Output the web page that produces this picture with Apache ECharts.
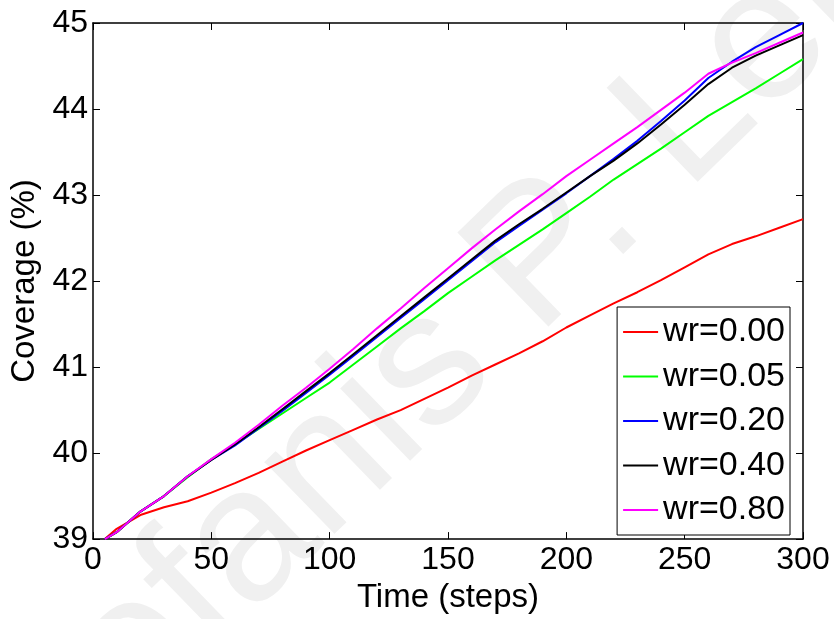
<!DOCTYPE html>
<html>
<head>
<meta charset="utf-8">
<script src="https://cdn.jsdelivr.net/npm/echarts@6/dist/echarts.min.js"></script>
<style>
  html, body { margin: 0; padding: 0; background: #fff; }
  #main { width: 834px; height: 619px; }
</style>
</head>
<body>
<div id="main"></div>
<script>
// time steps
var steps = [5, 10, 20, 30, 40, 50, 60, 70, 80, 90, 100, 110, 120, 130, 140, 150,
  160, 170, 180, 190, 200, 210, 220, 230, 240, 250, 260, 270, 280, 290, 300];

var wr000 = [39.00, 39.12, 39.28, 39.37, 39.44, 39.54, 39.65, 39.77, 39.90, 40.03, 40.15,
  40.27, 40.39, 40.50, 40.63, 40.76, 40.90, 41.03, 41.16, 41.30, 41.46,
  41.60, 41.74, 41.87, 42.01, 42.16, 42.31, 42.43, 42.52, 42.62, 42.72];
var wr005 = [39.00, 39.08, 39.32, 39.50, 39.72, 39.93, 40.10, 40.28, 40.46, 40.64, 40.82,
  41.03, 41.24, 41.45, 41.65, 41.86, 42.05, 42.24, 42.42, 42.60, 42.79,
  42.98, 43.18, 43.36, 43.54, 43.73, 43.92, 44.08, 44.24, 44.41, 44.58];
var wr020 = [39.00, 39.08, 39.32, 39.50, 39.73, 39.92, 40.09, 40.29, 40.49, 40.70, 40.91,
  41.13, 41.35, 41.57, 41.79, 42.01, 42.23, 42.45, 42.64, 42.83, 43.02,
  43.22, 43.42, 43.63, 43.86, 44.10, 44.36, 44.55, 44.72, 44.86, 45.00];
var wr040 = [39.00, 39.08, 39.32, 39.50, 39.73, 39.92, 40.10, 40.30, 40.51, 40.72, 40.93,
  41.15, 41.37, 41.59, 41.81, 42.03, 42.25, 42.47, 42.66, 42.84, 43.03,
  43.22, 43.40, 43.60, 43.82, 44.05, 44.29, 44.48, 44.62, 44.74, 44.86];
var wr080 = [39.00, 39.08, 39.32, 39.50, 39.73, 39.93, 40.12, 40.33, 40.55, 40.76, 40.98,
  41.21, 41.45, 41.68, 41.92, 42.15, 42.38, 42.60, 42.81, 43.01, 43.22,
  43.41, 43.60, 43.79, 43.99, 44.19, 44.41, 44.54, 44.65, 44.77, 44.89];

var seriesNames = ["wr=0.00", "wr=0.05", "wr=0.20", "wr=0.40", "wr=0.80"];
var seriesColors = ["#ff0000", "#00ff00", "#0000ff", "#000000", "#ff00ff"];
var seriesValues = [wr000, wr005, wr020, wr040, wr080];

var font = "Liberation Sans, Arial, Helvetica, sans-serif";

function pairs(vals) {
  return steps.map(function (t, i) { return [t, vals[i]]; });
}

var myChart = echarts.init(document.getElementById("main"));

var boxAxis = {
  axisLine: { show: true, onZero: false, lineStyle: { color: "#000", width: 1.5 } },
  axisTick: { show: true, inside: true, length: 7, lineStyle: { color: "#000", width: 1 } },
  splitLine: { show: false }
};

var option = {
  backgroundColor: "#fff",
  animation: false,
  textStyle: { fontFamily: font },
  grid: { left: 93, right: 31, top: 23, bottom: 73, containLabel: false },
  graphic: [
    {
      // faint watermark across the picture
      type: "text",
      x: -96, y: 746,
      rotation: 0.77,
      z: -10,
      silent: true,
      style: {
        text: "Stefanis P. Lekkas",
        fill: "#f0f0f0",
        font: "190px " + font,
        textBaseline: "middle"
      }
    }
  ],
  legend: {
    orient: "vertical",
    right: 44,
    top: 307,
    padding: [8, 5, 8, 6],
    itemGap: 10.5,
    itemWidth: 35,
    itemHeight: 2,
    icon: "rect",
    borderColor: "#000",
    borderWidth: 1,
    backgroundColor: "#fff",
    textStyle: { fontSize: 34, color: "#000", fontFamily: font },
    data: seriesNames
  },
  xAxis: [
    Object.assign({}, boxAxis, {
      type: "value", min: 0, max: 300, interval: 50, position: "bottom",
      name: "Time (steps)", nameLocation: "middle", nameGap: 38,
      nameTextStyle: { fontSize: 33, color: "#000", fontFamily: font },
      axisLabel: { fontSize: 32, color: "#000", margin: 5, fontFamily: font }
    }),
    Object.assign({}, boxAxis, {
      type: "value", min: 0, max: 300, interval: 50, position: "top",
      axisLabel: { show: false }
    })
  ],
  yAxis: [
    Object.assign({}, boxAxis, {
      type: "value", min: 39, max: 45, interval: 1, position: "left",
      name: "Coverage (%)", nameLocation: "middle", nameGap: 50,
      nameTextStyle: { fontSize: 33, color: "#000", fontFamily: font },
      axisLabel: { fontSize: 32, color: "#000", margin: 5, fontFamily: font }
    }),
    Object.assign({}, boxAxis, {
      type: "value", min: 39, max: 45, interval: 1, position: "right",
      axisLabel: { show: false }
    })
  ],
  series: seriesNames.map(function (name, i) {
    return {
      name: name,
      type: "line",
      xAxisIndex: 0,
      yAxisIndex: 0,
      showSymbol: false,
      smooth: false,
      color: seriesColors[i],
      lineStyle: { width: 2, color: seriesColors[i] },
      data: pairs(seriesValues[i])
    };
  })
};

myChart.setOption(option);
</script>
</body>
</html>
